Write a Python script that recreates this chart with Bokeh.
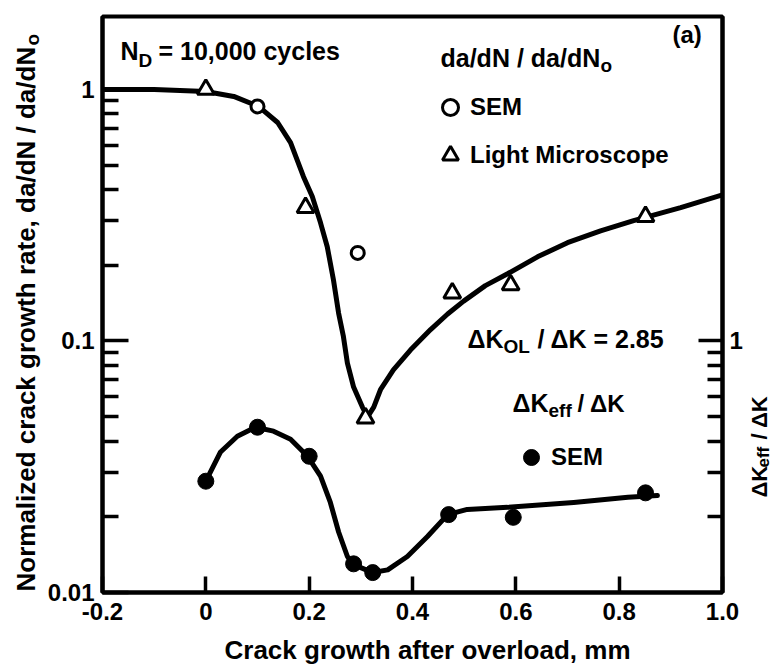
import math

from bokeh.embed import file_html
from bokeh.layouts import column, row
from bokeh.models import (FixedTicker, Label, Legend, LegendItem, LogAxis,
                          LogScale, Range1d)
from bokeh.plotting import figure
from bokeh.resources import INLINE

# --- axis extents -----------------------------------------------------------
X_START, X_END = -0.2, 1.0
Y_START, Y_END = 0.01, 1.95          # normalized da/dN (left, log)
K_START, K_END = 0.1, 19.5           # dKeff/dK (right, log)

x_ticks = [-0.2, 0.0, 0.2, 0.4, 0.6, 0.8, 1.0]
x_tick_labels = ["-0.2", "0", "0.2", "0.4", "0.6", "0.8", "1.0"]
y_ticks = [0.01, 0.1, 1.0]
y_tick_labels = ["0.01", "0.1", "1"]
y_minor = [0.02, 0.03, 0.04, 0.05, 0.06, 0.07, 0.08, 0.09,
           0.2, 0.3, 0.4, 0.5, 0.6, 0.7, 0.8, 0.9]
k_ticks = [1.0]
k_tick_labels = ["1"]
k_minor = [0.2, 0.3, 0.4, 0.5, 0.6, 0.7, 0.8, 0.9]

# --- measured data ----------------------------------------------------------
# da/dN / da/dN0, SEM
sem_x = [0.10, 0.294]
sem_y = [0.856, 0.224]
# da/dN / da/dN0, light microscope
lm_x = [0.0, 0.193, 0.309, 0.477, 0.590, 0.851]
lm_y = [1.0, 0.339, 0.0494, 0.155, 0.167, 0.312]
# dKeff / dK, SEM
keff_x = [0.0, 0.10, 0.20, 0.286, 0.323, 0.47, 0.595, 0.851]
keff_y = [0.277, 0.454, 0.348, 0.130, 0.120, 0.204, 0.199, 0.249]

# hand-drawn trend curves
rate_curve_x = [-0.20, -0.10, 0.00, 0.054, 0.102, 0.139, 0.164, 0.189, 0.206,
                0.222, 0.235, 0.247, 0.257, 0.266, 0.274, 0.286, 0.303, 0.313,
                0.325, 0.338, 0.363, 0.396, 0.435, 0.468, 0.499, 0.541, 0.584,
                0.642, 0.700, 0.764, 0.828, 0.919, 1.000]
rate_curve_y = [1.00, 1.00, 0.982, 0.938, 0.856, 0.739, 0.615, 0.450, 0.375,
                0.295, 0.237, 0.175, 0.129, 0.105, 0.0816, 0.0656, 0.0546,
                0.0499, 0.0546, 0.0640, 0.0768, 0.0920, 0.111, 0.128, 0.144,
                0.166, 0.185, 0.216, 0.246, 0.274, 0.301, 0.339, 0.381]
keff_curve_x = [0.000, 0.028, 0.061, 0.096, 0.131, 0.164, 0.197, 0.222, 0.241,
                0.257, 0.274, 0.286, 0.323, 0.352, 0.390, 0.429, 0.468, 0.506,
                0.584, 0.712, 0.817, 0.874]
keff_curve_y = [0.277, 0.361, 0.418, 0.454, 0.438, 0.407, 0.348, 0.290, 0.228,
                0.174, 0.139, 0.129, 0.120, 0.123, 0.139, 0.167, 0.204, 0.214,
                0.218, 0.228, 0.239, 0.243]

# --- page geometry ------------------------------------------------------------
PAGE_W, PAGE_H = 773, 664
STRIP_L = 44          # left strip holding the y-axis title
STRIP_R = 27          # right strip holding the secondary-axis title
STRIP_B = 32          # bottom strip holding the x-axis title
MAIN_W = PAGE_W - STRIP_L - STRIP_R
MAIN_H = PAGE_H - STRIP_B
FRAME_L, FRAME_T, FRAME_R, FRAME_B = 102, 16, 722, 592   # page pixels
FW, FH = FRAME_R - FRAME_L, FRAME_B - FRAME_T

FONT = "Liberation Sans"
# Label anchors sit this fraction of the font size above the glyph baseline
BASELINE_SHIFT = 0.38

p = figure(width=MAIN_W, height=MAIN_H, x_range=Range1d(X_START, X_END),
           y_range=Range1d(Y_START, Y_END), y_axis_type="log",
           output_backend="svg", toolbar_location=None,
           min_border_left=FRAME_L - STRIP_L,
           min_border_right=STRIP_L + MAIN_W - FRAME_R,
           min_border_top=FRAME_T, min_border_bottom=MAIN_H - FRAME_B)
p.extra_y_ranges = {"keff": Range1d(K_START, K_END)}
p.extra_y_scales = {"keff": LogScale()}
p.xgrid.visible = False
p.ygrid.visible = False
p.outline_line_color = "black"
p.outline_line_width = 4
p.background_fill_color = "white"
p.border_fill_color = "white"


def style_axis(ax, tick_in, minor_in, standoff):
    ax.axis_line_width = 4
    ax.axis_line_color = "black"
    ax.major_tick_in = tick_in
    ax.major_tick_out = 0
    ax.minor_tick_in = minor_in
    ax.minor_tick_out = 0
    ax.major_tick_line_width = 3.5
    ax.minor_tick_line_width = 3.5
    ax.major_tick_line_color = "black"
    ax.minor_tick_line_color = "black"
    ax.major_label_text_font = FONT
    ax.major_label_text_font_style = "bold"
    ax.major_label_text_font_size = "24px"
    ax.major_label_text_color = "black"
    ax.major_label_standoff = standoff


xa = p.xaxis[0]
xa.ticker = FixedTicker(ticks=x_ticks, minor_ticks=[])
xa.major_label_overrides = dict(zip(x_ticks, x_tick_labels))
style_axis(xa, 16, 0, 10)
xa.minor_tick_line_color = None

ya = p.yaxis[0]
ya.ticker = FixedTicker(ticks=y_ticks, minor_ticks=y_minor)
ya.major_label_overrides = dict(zip(y_ticks, y_tick_labels))
style_axis(ya, 26, 16, 8)

ka = LogAxis(y_range_name="keff",
             ticker=FixedTicker(ticks=k_ticks, minor_ticks=k_minor))
ka.major_label_overrides = dict(zip(k_ticks, k_tick_labels))
style_axis(ka, 24, 15, 7)
p.add_layout(ka, "right")

# --- curves and points ------------------------------------------------------
p.line(rate_curve_x, rate_curve_y, line_width=5, color="black",
       line_join="round", line_cap="round")
p.line(keff_curve_x, keff_curve_y, line_width=5, color="black",
       line_join="round", line_cap="round", y_range_name="keff")

r_sem = p.scatter(sem_x, sem_y, marker="circle", size=13, fill_color="white",
                  line_color="black", line_width=3)
r_lm = p.scatter(lm_x, lm_y, marker="triangle", size=17, fill_color="white",
                 line_color="black", line_width=3)
r_keff = p.scatter(keff_x, keff_y, marker="circle", size=16, color="black",
                   y_range_name="keff")


# --- legends ----------------------------------------------------------------
def make_legend(items, loc, spacing):
    return Legend(items=items, location=loc, orientation="vertical",
                  glyph_width=40, glyph_height=40, label_height=40,
                  label_standoff=0, spacing=spacing, padding=0, margin=0,
                  border_line_color=None, background_fill_alpha=0,
                  label_text_font=FONT, label_text_font_style="bold",
                  label_text_font_size="24px", label_text_color="black")


p.add_layout(make_legend([LegendItem(label="SEM", renderers=[r_sem]),
                          LegendItem(label="Light Microscope", renderers=[r_lm])],
                         (328, 417), 8))
p.add_layout(make_legend([LegendItem(label="SEM", renderers=[r_keff])],
                         (409, 115), 0))


# --- text annotations inside the plot (positions in page pixels) -------------
def px_x(px):
    return X_START + (px - FRAME_L) / FW * (X_END - X_START)


def px_y(py):
    lo, hi = math.log10(Y_START), math.log10(Y_END)
    return 10 ** (lo + (FRAME_B - py) / FH * (hi - lo))


def label(target, x, y, s, size, angle=0.0, align="left"):
    target.add_layout(Label(x=x, y=y, text=s, angle=angle,
                            text_align=align, text_baseline="alphabetic",
                            text_font=FONT, text_font_style="bold",
                            text_font_size=f"{size}px", text_color="black"))


def txt(px, py, s, size):
    # (px, py) is the left end of the baseline, in page pixels
    label(p, px_x(px), px_y(py - BASELINE_SHIFT * size), s, size)


txt(120, 60, "N", 25)
txt(138, 67, "D", 19)
txt(158, 60, "= 10,000 cycles", 25)
txt(672, 43, "(a)", 24)

txt(440, 67, "da/dN / da/dN", 25)
txt(600, 72, "o", 19)

txt(467, 348, "\u0394K", 25)
txt(503, 353, "OL", 19)
txt(537, 348, "/ \u0394K = 2.85", 25)

txt(512, 412, "\u0394K", 25)
txt(548, 417, "eff", 19)
txt(577, 412, "/ \u0394K", 24)


# --- title strips (data units are pixels, origin bottom-left) ----------------
def strip(w, h):
    s = figure(width=w, height=h, x_range=Range1d(0, w), y_range=Range1d(0, h),
               x_axis_location=None, y_axis_location=None,
               output_backend="svg", toolbar_location=None, min_border=0)
    s.grid.visible = False
    s.outline_line_color = None
    s.background_fill_color = "white"
    s.border_fill_color = "white"
    return s


UP = math.pi / 2


def vtxt(target, x0, bx, py, s, size):
    # upward-reading text; bx = baseline column, py = bottom end (page pixels)
    label(target, bx - x0 - BASELINE_SHIFT * size, PAGE_H - py, s, size, UP)


left = strip(STRIP_L, PAGE_H)
vtxt(left, 0, 35, 591, "Normalized crack growth rate, da/dN / da/dN", 26)
vtxt(left, 0, 39, 45, "o", 19)

right = strip(STRIP_R, PAGE_H)
RX0 = PAGE_W - STRIP_R
vtxt(right, RX0, 767, 497, "\u0394K", 22)
vtxt(right, RX0, 769, 467, "eff", 17)
vtxt(right, RX0, 767, 439, "/ \u0394K", 22)

bottom = strip(MAIN_W, STRIP_B)
label(bottom, (FRAME_L + FRAME_R) / 2 - STRIP_L,
      PAGE_H - 659 + BASELINE_SHIFT * 26,
      "Crack growth after overload, mm", 26, align="center")

layout = row(left, column(p, bottom, spacing=0), right, spacing=0)

open("out.html", "w").write(file_html(layout, INLINE))
